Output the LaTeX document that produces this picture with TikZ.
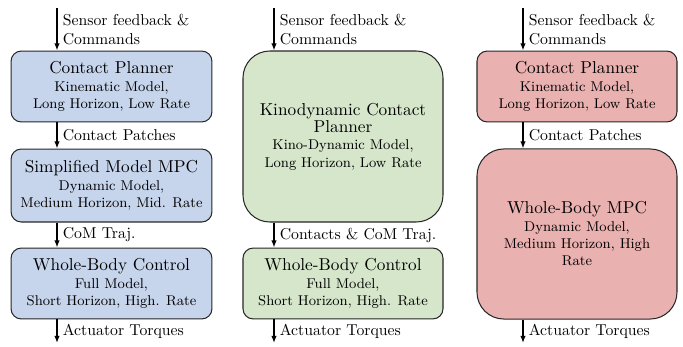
\documentclass[tikz,border=0pt]{standalone}
\usepackage{tikz}
\usetikzlibrary{arrows.meta}

\definecolor{plannerblue}{HTML}{C6D4EC}
\definecolor{plannergreen}{HTML}{D5E6CB}
\definecolor{plannerred}{HTML}{E9B1B0}

\newcommand{\blocktitle}[1]{{\fontsize{10.95}{13.6}\selectfont #1}}

\begin{document}
\begin{tikzpicture}[x=0.6345pt, y=-0.6345pt, >={Latex[length=4.5pt,width=3.4pt]},
  block/.style={draw=black!85, line width=0.65pt, align=center, font=\small,
    inner sep=2pt, minimum width=126.9pt, rounded corners=6.5pt},
  tallblock/.style={block, rounded corners=17pt},
  flow/.style={->, line width=0.75pt},
  flowlabel/.style={midway, right, align=left, font=\normalsize}]
\useasboundingbox (0,0) rectangle (683,346);

% hierarchy with three layers
\node[block, fill=plannerblue, minimum width=127.5pt, minimum height=45pt] (cp) at (111.5,86.5)
  {\blocktitle{Contact Planner}\\Kinematic Model,\\Long Horizon, Low Rate};
\node[block, fill=plannerblue, minimum width=127.5pt, minimum height=46.3pt] (smpc) at (111.5,185.5)
  {\blocktitle{Simplified Model MPC}\\Dynamic Model,\\Medium Horizon, Mid. Rate};
\node[block, fill=plannerblue, minimum width=127.5pt, minimum height=45pt] (wbc) at (111.5,283.5)
  {\blocktitle{Whole-Body Control}\\Full Model,\\Short Horizon, High. Rate};
\coordinate (in1) at (57,8);
\coordinate (out1) at (57,343);
\draw[flow] (in1) -- (in1 |- cp.north) node[flowlabel]{Sensor feedback \&\\Commands};
\draw[flow] (in1 |- cp.south) -- (in1 |- smpc.north) node[flowlabel]{Contact Patches};
\draw[flow] (in1 |- smpc.south) -- (in1 |- wbc.north) node[flowlabel]{CoM Traj.};
\draw[flow] (in1 |- wbc.south) -- (out1) node[flowlabel]{Actuator Torques};

% kinodynamic planner + wbc
\node[tallblock, fill=plannergreen, minimum height=108.5pt] (kcp) at (343,136.5)
  {\blocktitle{Kinodynamic Contact}\\\blocktitle{Planner}\\Kino-Dynamic Model,\\Long Horizon, Low Rate};
\node[block, fill=plannergreen, minimum height=45pt] (wbcb) at (343,283.5)
  {\blocktitle{Whole-Body Control}\\Full Model,\\Short Horizon, High. Rate};
\coordinate (in2) at (274,8);
\coordinate (out2) at (274,343);
\draw[flow] (in2) -- (in2 |- kcp.north) node[flowlabel]{Sensor feedback \&\\Commands};
\draw[flow] (in2 |- kcp.south) -- (in2 |- wbcb.north) node[flowlabel]{Contacts \& CoM Traj.};
\draw[flow] (in2 |- wbcb.south) -- (out2) node[flowlabel]{Actuator Torques};

% contact planner + whole-body mpc
\node[block, fill=plannerred, minimum height=45pt] (cpc) at (577,86.5)
  {\blocktitle{Contact Planner}\\Kinematic Model,\\Long Horizon, Low Rate};
\node[tallblock, fill=plannerred, minimum height=107.9pt] (wbmpc) at (577,234)
  {\blocktitle{Whole-Body MPC}\\Dynamic Model,\\Medium Horizon, High\\Rate};
\coordinate (in3) at (523,8);
\coordinate (out3) at (523,343);
\draw[flow] (in3) -- (in3 |- cpc.north) node[flowlabel]{Sensor feedback \&\\Commands};
\draw[flow] (in3 |- cpc.south) -- (in3 |- wbmpc.north) node[flowlabel]{Contact Patches};
\draw[flow] (in3 |- wbmpc.south) -- (out3) node[flowlabel]{Actuator Torques};
\end{tikzpicture}
\end{document}
